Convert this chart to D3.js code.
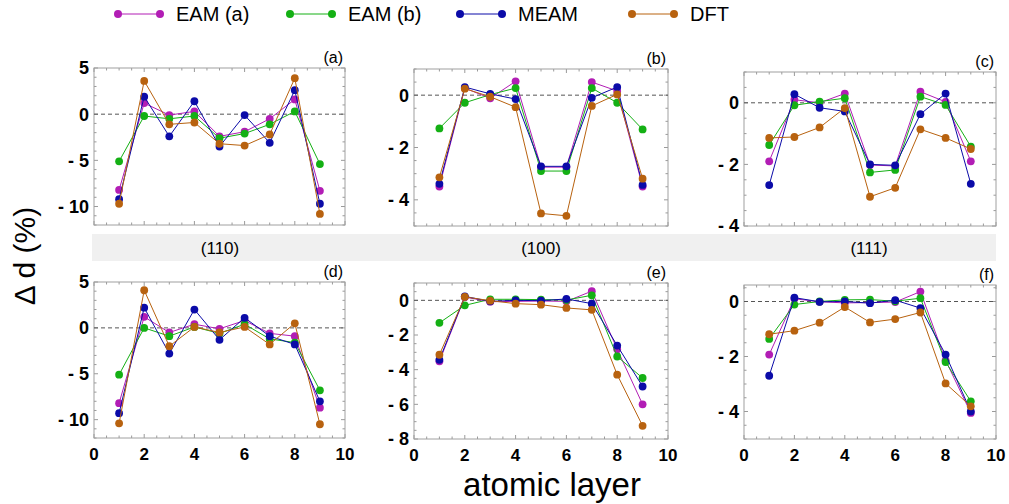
<!DOCTYPE html>
<html>
<head>
<meta charset="utf-8">
<script src="https://cdn.jsdelivr.net/npm/d3@7"></script>
<style>
  body { margin: 0; background: #fff; }
  text { font-family: "Liberation Sans", Arial, Helvetica, sans-serif; }
</style>
</head>
<body>
<svg id="chart" width="1009" height="504"></svg>
<script>
// atomic layers on the x axis
var layers = [1, 2, 3, 4, 5, 6, 7, 8, 9];
var seriesNames = ["EAM (a)", "EAM (b)", "MEAM", "DFT"];
var seriesColors = ["#b21db5", "#14b014", "#0b0ba8", "#b8620f"];
var panelLabels = ["(a)", "(b)", "(c)", "(d)", "(e)", "(f)"];
var facetLabels = ["(110)", "(100)", "(111)"];
var xTicks = [0, 2, 4, 6, 8, 10];

// each panel: rows = EAM (a), EAM (b), MEAM, DFT
var panelA = [
  [-8.2, 1.2, -0.1, 0.3, -2.4, -1.9, -0.5, 1.6, -8.3],
  [-5.1, -0.2, -0.5, -0.2, -2.6, -2.1, -1.1, 0.3, -5.4],
  [-9.2, 1.9, -2.4, 1.4, -3.5, -0.1, -3.1, 2.6, -9.7],
  [-9.7, 3.6, -1.1, -0.9, -3.2, -3.4, -2.2, 3.9, -10.8]
];
var panelB = [
  [-3.49, 0.27, -0.12, 0.53, -2.75, -2.75, 0.5, 0.16, -3.49],
  [-1.27, -0.29, 0.02, 0.27, -2.9, -2.9, 0.27, -0.29, -1.31],
  [-3.39, 0.31, 0.05, -0.15, -2.72, -2.72, -0.1, 0.31, -3.43],
  [-3.14, 0.25, -0.06, -0.46, -4.52, -4.61, -0.41, 0.03, -3.19]
];
var panelC = [
  [-1.9, 0.1, 0.0, 0.3, -2.02, -2.05, 0.36, 0.03, -1.9],
  [-1.37, -0.08, 0.04, 0.15, -2.26, -2.18, 0.2, -0.07, -1.42],
  [-2.67, 0.28, -0.16, -0.28, -2.0, -2.03, -0.37, 0.3, -2.63],
  [-1.14, -1.11, -0.8, -0.17, -3.05, -2.76, -0.86, -1.14, -1.5]
];
var panelD = [
  [-8.2, 1.2, -0.5, 0.4, -0.1, 0.8, -0.6, -0.9, -8.7],
  [-5.1, 0.0, -0.9, 0.1, -0.6, 0.4, -1.2, -1.6, -6.8],
  [-9.3, 2.2, -2.8, 2.0, -1.3, 1.1, -0.9, -1.8, -8.0],
  [-10.4, 4.1, -2.0, 0.1, -0.5, 0.1, -1.8, 0.5, -10.5]
];
var panelE = [
  [-3.52, 0.19, -0.08, -0.06, -0.04, -0.06, 0.53, -2.82, -6.0],
  [-1.3, -0.29, 0.06, 0.06, 0.04, 0.02, 0.29, -3.24, -4.48],
  [-3.43, 0.23, -0.06, 0.0, -0.02, 0.08, -0.19, -2.61, -4.97],
  [-3.14, 0.2, -0.02, -0.19, -0.25, -0.44, -0.55, -4.29, -7.24]
];
var panelF = [
  [-1.93, 0.1, -0.01, -0.05, -0.04, -0.02, 0.36, -2.14, -4.05],
  [-1.36, -0.11, 0.0, 0.06, 0.07, 0.01, 0.12, -2.2, -3.63],
  [-2.7, 0.14, -0.01, 0.0, -0.06, 0.05, -0.24, -1.93, -4.0],
  [-1.19, -1.06, -0.77, -0.2, -0.76, -0.64, -0.4, -2.98, -3.81]
];

var yDomains = [[-12, 5], [-5, 1], [-4, 1], [-12, 5], [-8, 1], [-5, 0.6]];
var yMajor = [5, 2, 2, 5, 2, 2];
var yMinor = [1, 0.5, 0.5, 1, 0.5, 0.5];

var svg = d3.select("#chart");

// frame boxes, one per panel
var boxes = [
  {x0: 94, x1: 345, y0: 68, y1: 225},
  {x0: 414, x1: 668, y0: 69, y1: 226},
  {x0: 744, x1: 996, y0: 72, y1: 226},
  {x0: 94, x1: 345, y0: 282, y1: 438},
  {x0: 414, x1: 668, y0: 283, y1: 439},
  {x0: 744, x1: 996, y0: 285, y1: 439}
];
var panels = [panelA, panelB, panelC, panelD, panelE, panelF];

// grey strip with the facet names
svg.append("rect")
    .attr("x", 92).attr("y", 234)
    .attr("width", 904).attr("height", 27)
    .attr("fill", "#f0f0f0");
var stripX = [220, 541, 869];
facetLabels.forEach(function(f, i) {
    svg.append("text")
        .attr("x", stripX[i]).attr("y", 254)
        .attr("text-anchor", "middle")
        .attr("font-size", 17)
        .text(f);
});

function range(lo, hi, step) {
    var out = [];
    var start = Math.ceil(lo / step - 1e-9) * step;
    for (var v = start; v <= hi + 1e-9; v += step) out.push(+v.toFixed(6));
    return out;
}

function fmt(v) {
    return v < 0 ? "- " + Math.abs(v) : String(v);
}

panels.forEach(function(data, p) {
    var b = boxes[p];
    var x = d3.scaleLinear().domain([0, 10]).range([b.x0, b.x1]);
    var y = d3.scaleLinear().domain(yDomains[p]).range([b.y1, b.y0]);
    var g = svg.append("g");

    // ticks on all four sides, pointing in
    var tickColor = "#9a9a9a";
    var xMaj = range(0, 10, 2), xMin = range(0, 10, 0.5);
    xMin.forEach(function(v) {
        var len = xMaj.indexOf(v) >= 0 ? 4 : 2.5;
        g.append("line").attr("x1", x(v)).attr("x2", x(v))
            .attr("y1", b.y1).attr("y2", b.y1 - len).attr("stroke", tickColor);
        g.append("line").attr("x1", x(v)).attr("x2", x(v))
            .attr("y1", b.y0).attr("y2", b.y0 + len).attr("stroke", tickColor);
    });
    var yMaj = range(yDomains[p][0], yDomains[p][1], yMajor[p]);
    var yMin = range(yDomains[p][0], yDomains[p][1], yMinor[p]);
    yMin.forEach(function(v) {
        var isMaj = yMaj.indexOf(v) >= 0;
        var len = isMaj ? 4 : 2.5;
        g.append("line").attr("x1", b.x0).attr("x2", b.x0 + len)
            .attr("y1", y(v)).attr("y2", y(v)).attr("stroke", tickColor);
        g.append("line").attr("x1", b.x1).attr("x2", b.x1 - len)
            .attr("y1", y(v)).attr("y2", y(v)).attr("stroke", tickColor);
    });

    // frame
    g.append("rect")
        .attr("x", b.x0).attr("y", b.y0)
        .attr("width", b.x1 - b.x0).attr("height", b.y1 - b.y0)
        .attr("fill", "none").attr("stroke", "#a0a0a0");

    // y tick labels
    g.selectAll(".ylab").data(yMaj).enter().append("text")
        .attr("x", b.x0 - 5).attr("y", function(d) { return y(d); })
        .attr("dy", "0.36em")
        .attr("text-anchor", "end")
        .attr("font-size", 18).attr("font-weight", "bold")
        .text(fmt);

    // x tick labels, bottom row only
    if (p >= 3) {
        g.selectAll(".xlab").data(xTicks).enter().append("text")
            .attr("x", function(d) { return x(d); }).attr("y", b.y1 + 22)
            .attr("text-anchor", "middle")
            .attr("font-size", 17).attr("font-weight", "bold")
            .text(function(d) { return d; });
    }

    // zero line
    g.append("line")
        .attr("x1", b.x0).attr("x2", b.x1)
        .attr("y1", y(0)).attr("y2", y(0))
        .attr("stroke", "#555").attr("stroke-dasharray", "4,3");

    // panel label
    g.append("text")
        .attr("x", b.x1 - 2).attr("y", b.y0 - 5)
        .attr("text-anchor", "end")
        .attr("font-size", 16)
        .text(panelLabels[p]);

    var line = d3.line()
        .x(function(d, i) { return x(layers[i]); })
        .y(function(d) { return y(d); });

    data.forEach(function(vals, s) {
        g.append("path")
            .attr("d", line(vals))
            .attr("fill", "none")
            .attr("stroke", seriesColors[s])
            .attr("stroke-width", 1);
        g.selectAll(".pt" + s).data(vals).enter().append("circle")
            .attr("cx", function(d, i) { return x(layers[i]); })
            .attr("cy", function(d) { return y(d); })
            .attr("r", 3.9)
            .attr("fill", seriesColors[s]);
    });
});

// axis titles
svg.append("text")
    .attr("transform", "translate(35,256) rotate(-90)")
    .attr("text-anchor", "middle")
    .attr("font-size", 30)
    .text("Δ d (%)");
svg.append("text")
    .attr("x", 552).attr("y", 496)
    .attr("text-anchor", "middle")
    .attr("font-size", 33)
    .text("atomic layer");

// legend
var legendX = [118, 290, 460, 632];
var legend = svg.selectAll(".leg").data(seriesNames).enter().append("g")
    .attr("transform", function(d, i) { return "translate(" + legendX[i] + ",14)"; });
legend.append("line")
    .attr("x1", 0).attr("x2", 42)
    .attr("stroke", function(d, i) { return seriesColors[i]; });
legend.append("circle").attr("cx", 0).attr("r", 4)
    .attr("fill", function(d, i) { return seriesColors[i]; });
legend.append("circle").attr("cx", 42).attr("r", 4)
    .attr("fill", function(d, i) { return seriesColors[i]; });
legend.append("text")
    .attr("x", 58).attr("dy", "0.35em")
    .attr("font-size", 20)
    .text(function(d) { return d; });
</script>
</body>
</html>
